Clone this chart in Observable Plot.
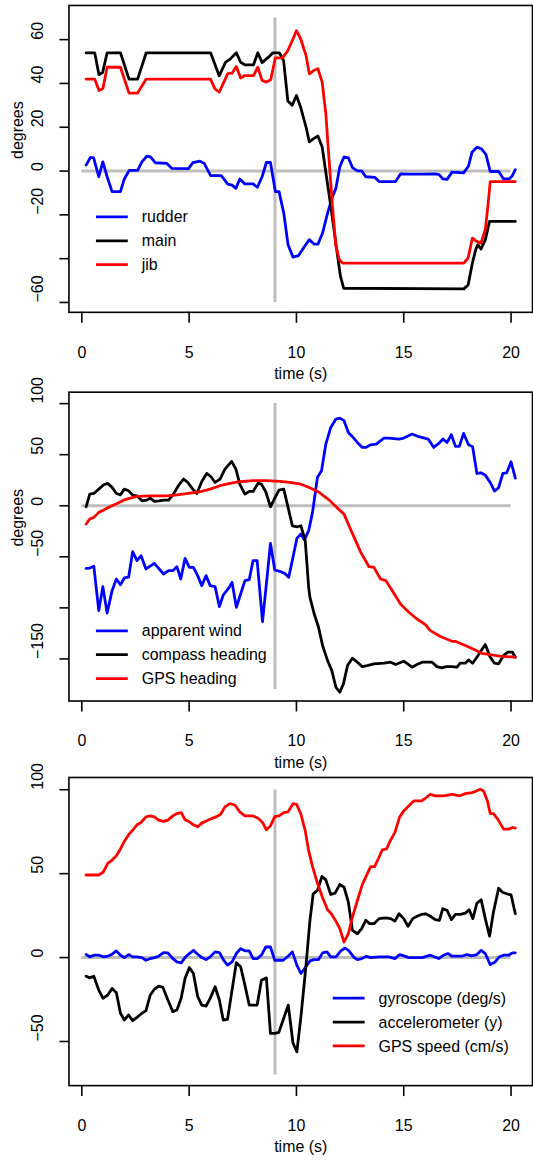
<!DOCTYPE html>
<html><head><meta charset="utf-8">
<script src="https://cdn.jsdelivr.net/npm/d3@7"></script>
<script src="https://cdn.jsdelivr.net/npm/@observablehq/plot@0.6"></script>
<style>
html,body{margin:0;padding:0;background:#fff;}
body{width:533px;height:1163px;overflow:hidden;}
#chart svg{display:block;}
</style></head><body><div id="chart"></div>
<script>
// ---------- shared ----------
const xTicks = [0, 5, 10, 15, 20];
const xTitle = "time (s)";
const markerTime = 9;

// ---------- panel 1: control surfaces (time s, degrees) ----------
const rudder = [[0.2,2.7],[0.4,6.2],[0.55,6.0],[0.79,-2.6],[0.98,4.2],[1.18,-2.6],[1.41,-9.4],[1.8,-9.4],[1.98,-3.6],[2.21,0.3],[2.6,0.3],[2.8,4.2],[3.03,6.8],[3.2,6.5],[3.42,3.8],[3.96,3.5],[4.2,1.2],[4.97,1.1],[5.17,3.8],[5.51,4.5],[5.7,3.5],[6.0,-2.1],[6.5,-2.1],[6.8,-6.0],[7.0,-6.4],[7.18,-7.9],[7.36,-3.6],[7.6,-5.9],[7.98,-5.9],[8.18,-7.4],[8.4,-2.6],[8.6,3.9],[8.79,3.9],[9.02,-9.4],[9.19,-9.4],[9.41,-19.2],[9.61,-33.6],[9.84,-39.3],[10.1,-38.6],[10.37,-34.6],[10.6,-31.3],[10.83,-33.4],[11.0,-33.4],[11.22,-28.3],[11.45,-19.2],[11.68,-11.7],[11.84,-7.9],[12.02,1.9],[12.22,6.5],[12.42,6.0],[12.61,1.6],[12.84,0.1],[13.04,0.1],[13.23,-2.6],[13.66,-2.9],[13.85,-4.8],[14.62,-4.8],[14.85,-1.3],[15.24,-1.4],[15.86,-1.4],[16.47,-1.3],[16.65,-1.6],[16.82,-3.6],[17.02,-3.8],[17.25,-0.5],[17.79,-0.8],[18.02,2.3],[18.18,8.6],[18.41,10.9],[18.61,10.2],[18.83,7.6],[19.03,-0.2],[19.42,-0.1],[19.65,-3.6],[19.91,-3.6],[20.06,-2.1],[20.2,0.6]];
const main = [[0.2,54],[0.6,54],[0.8,44],[0.97,45],[1.18,54],[1.8,54],[2.2,42],[2.6,42],[3.0,54],[6.0,54],[6.4,43.5],[6.7,49.7],[6.9,51],[7.2,54],[7.4,49.7],[7.6,48.5],[8.0,48.5],[8.2,54],[8.4,49.5],[8.7,52],[8.9,54],[9.2,54],[9.4,50.5],[9.6,32],[9.8,30],[10.0,34.5],[10.2,29],[10.45,20],[10.6,13.3],[10.8,14.8],[11.0,16],[11.2,11],[11.4,-2.6],[11.6,-16],[11.85,-34],[12.05,-48],[12.2,-53.5],[17.8,-53.8],[18.0,-52],[18.2,-42],[18.35,-36],[18.45,-33.6],[18.6,-35.6],[18.8,-31.4],[19.0,-23],[20.2,-23]];
const jib = [[0.2,42],[0.6,42],[0.8,36.8],[0.98,37.6],[1.18,47.4],[1.8,47.4],[2.2,35.6],[2.6,35.6],[3.0,42],[6.0,42],[6.2,37.6],[6.4,36],[6.8,44.5],[7.0,44.7],[7.2,47.7],[7.4,42.5],[7.6,43.6],[8.0,43.6],[8.2,47.4],[8.4,41.4],[8.6,40.6],[8.8,41.7],[9.02,51.7],[9.35,51.7],[9.6,55],[9.85,60.5],[10.0,64.1],[10.2,60.3],[10.45,52.7],[10.6,44.4],[10.8,45.9],[11.0,46.7],[11.2,40.6],[11.37,26.2],[11.5,8],[11.68,-16.2],[11.84,-34.4],[12.0,-40.5],[12.15,-42],[17.8,-42],[18.0,-39.7],[18.2,-30.6],[18.4,-32.1],[18.6,-32.9],[18.8,-26.8],[18.92,-16.2],[19.03,-4.8],[20.2,-4.8]];

// ---------- panel 2: headings (time s, degrees) ----------
const apparentWind = [[0.2,-61.3],[0.37,-61],[0.56,-59.3],[0.79,-102.7],[0.98,-79.2],[1.18,-105],[1.41,-83.1],[1.61,-71.7],[1.8,-77.3],[1.98,-70.7],[2.18,-70],[2.37,-45],[2.57,-53.7],[2.76,-48.9],[2.99,-61.9],[3.38,-56.4],[3.81,-66.8],[4.04,-63.6],[4.24,-63.6],[4.43,-59.6],[4.61,-71.7],[4.81,-51.5],[5.01,-60.3],[5.2,-60.3],[5.4,-68.4],[5.59,-78.2],[5.79,-68.4],[5.98,-78.2],[6.21,-79.2],[6.41,-98.8],[6.59,-87.4],[6.87,-79.9],[7.0,-75],[7.2,-99.4],[7.4,-86.4],[7.6,-73.3],[7.8,-72.4],[7.98,-53.7],[8.17,-53.7],[8.42,-113.5],[8.6,-76.6],[8.79,-36.8],[8.99,-62.9],[9.22,-64.2],[9.45,-66.2],[9.64,-70.1],[9.84,-50.5],[10.02,-32],[10.21,-27.6],[10.37,-33.4],[10.57,-24.4],[10.75,-6.5],[10.98,27.8],[11.17,34.3],[11.37,60.4],[11.6,76.7],[11.84,84.9],[12.02,85.8],[12.22,83.3],[12.42,71.8],[12.61,67.6],[12.84,62],[13.07,57.1],[13.23,57.1],[13.46,59.7],[13.72,60.4],[14.08,66.3],[14.3,66.3],[14.77,65.3],[15.0,66.3],[15.39,70.2],[15.7,67.6],[16.14,65.3],[16.4,57.1],[16.63,61],[16.83,65.3],[17.02,62],[17.22,69.5],[17.41,58.1],[17.59,58.1],[17.79,70.8],[18.02,59.7],[18.21,57.8],[18.41,31.6],[18.6,32.3],[18.8,30],[19.03,22.8],[19.23,14.4],[19.42,17.6],[19.62,31.6],[19.8,32.3],[20.0,43.1],[20.2,27]];
const compassHeading = [[0.2,-1],[0.37,11.4],[0.56,12],[0.79,16.3],[1.02,20.6],[1.21,21.9],[1.41,18],[1.61,12],[1.8,10.7],[1.98,16.3],[2.18,14.7],[2.37,10.4],[2.57,9.7],[2.8,4.8],[3.03,5.5],[3.19,7.4],[3.38,4.2],[3.6,4.8],[3.81,5.5],[4.04,5.5],[4.27,11.4],[4.5,19.6],[4.74,26.1],[4.94,22.8],[5.17,16.3],[5.36,12],[5.59,23.8],[5.82,31.6],[6.02,28.4],[6.21,22.8],[6.44,26.1],[6.67,35.9],[6.98,43.4],[7.18,35.9],[7.36,21.2],[7.6,11.4],[7.8,14],[7.98,14],[8.21,21.9],[8.37,21.2],[8.57,13.7],[8.79,-1],[8.99,7.4],[9.19,15.3],[9.41,16.3],[9.61,-1.6],[9.81,-19.6],[10.05,-20.6],[10.21,-19.6],[10.41,-34.2],[10.57,-79.9],[10.63,-89.7],[10.83,-106],[11.03,-119],[11.22,-137],[11.45,-151.6],[11.65,-161.4],[11.84,-177.7],[12.02,-182.6],[12.19,-174.4],[12.38,-156.5],[12.61,-149.3],[12.84,-153.2],[13.07,-157.5],[13.3,-156.5],[13.61,-154.8],[14.08,-154.2],[14.39,-153.2],[14.62,-155.5],[15.0,-152.2],[15.39,-158.1],[15.62,-155.5],[15.86,-153.2],[16.32,-153.2],[16.55,-157.5],[16.78,-158.8],[16.97,-157.5],[17.25,-157.5],[17.48,-158.1],[17.63,-154.2],[17.87,-154.2],[18.02,-150.9],[18.21,-154.2],[18.41,-148.3],[18.61,-141.8],[18.8,-135.9],[19.03,-148.3],[19.23,-154.2],[19.42,-154.8],[19.65,-146.7],[19.85,-143.4],[20.07,-143.4],[20.2,-148.3]];
const gpsHeading = [[0.2,-17.9],[0.37,-13],[0.56,-11.4],[0.79,-6.5],[1.02,-4.2],[1.33,-0.7],[1.64,2.3],[1.95,5.5],[2.26,7.4],[2.57,9.1],[3.19,9.7],[3.96,9.7],[4.43,10.7],[5.04,12.4],[5.51,13.7],[5.98,16.3],[6.44,19.6],[6.9,21.9],[7.36,23.5],[7.98,24.5],[8.6,24.5],[9.22,23.8],[9.69,22.8],[10.15,21.5],[10.6,17.9],[11.06,13.1],[11.53,5.5],[11.91,-2.3],[12.22,-8.2],[12.45,-19.6],[12.69,-31],[13.0,-45.6],[13.38,-59.7],[13.61,-60.3],[13.92,-71.7],[14.16,-73.3],[14.46,-83.1],[14.85,-96.2],[15.24,-104.3],[15.62,-110.9],[16.01,-116.4],[16.24,-122.3],[16.71,-128.1],[17.25,-132.7],[17.4,-132.7],[17.87,-136.9],[18.33,-141.2],[18.64,-144.5],[19.1,-146.1],[19.56,-147.4],[20.2,-148.3]];

// ---------- panel 3: motion sensors ----------
const gyroscope = [[0.2,1.8],[0.37,0.4],[0.56,1.4],[0.79,1.4],[1.02,0.4],[1.21,0.8],[1.41,2],[1.61,4],[1.8,1.4],[1.98,0],[2.18,1.8],[2.37,0.4],[2.57,0.4],[2.8,0],[2.99,-1.6],[3.19,-0.6],[3.38,0],[3.58,0.8],[3.81,3],[4.01,2.8],[4.24,-0.6],[4.43,-2.6],[4.63,-3.2],[4.81,0],[5.01,2.4],[5.2,4.3],[5.4,2],[5.59,0],[5.79,-1.2],[5.98,0.4],[6.21,3.4],[6.41,3],[6.59,-1.2],[6.79,-4.5],[7.0,-2.6],[7.2,2.4],[7.4,5.3],[7.6,4],[7.8,4],[7.98,-0.6],[8.17,-0.6],[8.37,1.4],[8.57,6.3],[8.79,6.3],[8.99,-1.6],[9.38,-1.6],[9.61,0.8],[9.81,3.4],[10.02,-4.5],[10.21,-9.5],[10.44,-5.5],[10.63,-2],[10.83,-1.2],[11.03,-1.2],[11.22,2.8],[11.42,3.4],[11.6,0.4],[11.84,0.4],[12.07,4],[12.27,5.7],[12.45,4],[12.69,0],[12.84,-1.2],[13.04,-0.6],[13.26,0.8],[13.46,0],[13.85,0.4],[14.31,0.4],[14.59,-0.6],[14.81,1.8],[15.0,1],[15.24,0],[15.86,0],[16.24,1.4],[16.63,-0.6],[16.86,1.4],[17.06,2.4],[17.25,0.8],[17.71,0.8],[17.94,1.8],[18.18,1],[18.41,1.8],[18.61,4.3],[18.8,2.4],[19.03,-4.2],[19.26,-2.6],[19.45,0.4],[19.65,1.4],[19.88,1.4],[20.07,2.8],[20.2,2.8]];
const accelerometer = [[0.2,-11.1],[0.37,-12.1],[0.56,-11.1],[0.79,-19.4],[0.99,-24.3],[1.21,-22.3],[1.41,-18.4],[1.61,-21],[1.8,-33.2],[1.98,-37.2],[2.18,-34.2],[2.37,-37.6],[2.57,-35.6],[2.76,-33.6],[2.99,-31.6],[3.19,-22.3],[3.38,-18.9],[3.58,-17],[3.78,-17.8],[4.01,-25.3],[4.24,-32.2],[4.43,-31.2],[4.63,-24.3],[4.81,-12.5],[5.01,-5.9],[5.2,-9.5],[5.4,-23.3],[5.59,-28.3],[5.79,-28.9],[5.98,-24.3],[6.21,-17.4],[6.41,-25.3],[6.59,-37.2],[6.79,-36.8],[7.0,-19.4],[7.2,-3.1],[7.4,-5.5],[7.6,-16.4],[7.8,-28.3],[8.17,-28.3],[8.37,-13.5],[8.6,-12.1],[8.79,-45.2],[8.99,-45.2],[9.18,-44.6],[9.38,-37.2],[9.62,-28.3],[9.84,-51],[10.02,-56.1],[10.21,-35.2],[10.44,-5.5],[10.63,22.2],[10.78,38],[10.98,40],[11.19,48.3],[11.37,46.3],[11.6,37.6],[11.8,38.4],[12.02,43.5],[12.22,41.9],[12.42,33],[12.61,16.2],[12.84,14.2],[13.04,17.2],[13.23,22.2],[13.41,20.2],[13.61,20.2],[13.85,23.2],[14.16,23.7],[14.39,23.2],[14.59,21.7],[14.78,26.1],[15.0,23.2],[15.2,18.6],[15.42,23.2],[15.62,24.6],[15.82,25.7],[16.01,26.1],[16.24,24.6],[16.47,22.6],[16.66,22.2],[16.82,29.1],[17.02,28.1],[17.22,22.6],[17.41,25.7],[17.64,25.7],[17.87,26.5],[18.05,28.5],[18.22,23.2],[18.41,32.4],[18.61,34.4],[18.8,23.2],[19.0,12.7],[19.18,27.1],[19.42,41.3],[19.6,38.9],[19.8,38],[20.0,37.4],[20.2,26.1]];
const gpsSpeed = [[0.2,49.2],[0.79,49.2],[0.99,50.8],[1.21,56.1],[1.41,58.1],[1.61,60.7],[1.8,64.7],[1.98,69.2],[2.18,73.2],[2.37,75.9],[2.57,79.1],[2.76,80.5],[2.99,83.8],[3.19,84.4],[3.38,83.8],[3.58,81.9],[3.81,81.1],[4.01,81.9],[4.24,84.4],[4.43,85.8],[4.63,86.4],[4.81,82.1],[5.01,80.9],[5.2,79.1],[5.4,77.9],[5.59,80.1],[5.82,81.5],[6.05,82.8],[6.28,84],[6.47,85.4],[6.67,89.8],[6.9,91.7],[7.13,90.9],[7.36,86.8],[7.6,84.4],[7.98,84.4],[8.21,83],[8.42,80.5],[8.6,76.1],[8.79,78.5],[8.99,84],[9.19,84.4],[9.41,86.4],[9.61,86.8],[9.84,91.7],[10.01,91.3],[10.21,85.4],[10.41,75.6],[10.57,63.7],[10.75,54.2],[10.98,44.3],[11.22,35.6],[11.45,28.5],[11.65,25.7],[11.84,21.7],[12.02,17.2],[12.22,9.3],[12.42,14.2],[12.61,24.1],[12.84,34],[13.07,43.5],[13.26,48.8],[13.46,54.2],[13.64,54.2],[13.81,58.7],[14.0,64.1],[14.2,64.7],[14.39,70],[14.59,74.6],[14.81,83.8],[15.0,87.4],[15.24,90.4],[15.47,93.3],[15.82,93.3],[16.01,94.9],[16.24,97.3],[16.47,96.3],[16.86,96.3],[17.25,97.3],[17.59,96.3],[17.87,97.7],[18.18,98.3],[18.33,98.9],[18.56,100.3],[18.72,99.3],[18.9,93.3],[19.03,85.8],[19.18,85.8],[19.38,82.5],[19.65,76.5],[19.88,76.5],[20.07,77.5],[20.2,77.1]];

// ---------- tick labels / titles ----------
const yTicks1 = [-60, -40, -20, 0, 20, 40, 60];
const yLabels1 = ["\u221260", "", "\u221220", "0", "20", "40", "60"];
const yTicks2 = [-150, -100, -50, 0, 50, 100];
const yLabels2 = ["\u2212150", "", "\u221250", "0", "50", "100"];
const yTicks3 = [-50, 0, 50, 100];
const yLabels3 = ["\u221250", "0", "50", "100"];
const names1 = ["rudder", "main", "jib"];
const names2 = ["apparent wind", "compass heading", "GPS heading"];
const names3 = ["gyroscope (deg/s)", "accelerometer (y)", "GPS speed (cm/s)"];
const colors = ["#0000ff", "#000000", "#ff0000"];

const FONT = "'Liberation Sans', Arial, Helvetica, sans-serif";
const GREY = "#bebebe";

function panel(cfg) {
  const marks = [
    Plot.ruleY([0], {x1: xTicks[0], x2: xTicks[xTicks.length - 1], stroke: GREY, strokeWidth: 3}),
    Plot.ruleX([markerTime], {y1: cfg.vRange[0], y2: cfg.vRange[1], stroke: GREY, strokeWidth: 3}),
    ...cfg.series.map((s, i) => Plot.line(s, {
      x: d => d[0], y: d => d[1], stroke: colors[i], strokeWidth: 2.8,
      strokeLinejoin: "round", strokeLinecap: "round"
    })),
    Plot.frame({stroke: "#000", strokeWidth: 1.6}),
    Plot.axisX({ticks: xTicks, tickSize: 11, tickPadding: 23, strokeWidth: 1.6, fill: "#000"}),
    Plot.axisY({ticks: cfg.yTicks, tickSize: 9, tickFormat: () => "", strokeWidth: 1.6}),
    Plot.text(cfg.yTicks, {y: d => d, text: (d, i) => cfg.yLabels[i], frameAnchor: "left", dx: -31, rotate: -90, fill: "#000"}),
    Plot.text([xTitle], {frameAnchor: "bottom", lineAnchor: "bottom", dy: 67, fill: "#000"})
  ];
  if (cfg.yTitle) marks.push(Plot.text([cfg.yTitle], {frameAnchor: "left", dx: -51.5, rotate: -90, fill: "#000"}));
  const svg = Plot.plot({
    width: 535, height: cfg.height,
    marginLeft: 68.7, marginRight: 1, marginTop: cfg.marginTop, marginBottom: cfg.marginBottom,
    x: {domain: [-0.6, 21.0], label: null},
    y: {domain: cfg.yDomain, label: null},
    style: {fontFamily: FONT, fontSize: "16px", color: "#000", background: "#fff", overflow: "visible"},
    marks
  });
  const g = d3.select(svg).append("g").attr("font-family", FONT).attr("font-size", 16)
    .attr("text-anchor", "start");
  cfg.names.forEach((name, i) => {
    const y = cfg.legend.top + i * 24;
    g.append("line").attr("x1", cfg.legend.x).attr("x2", cfg.legend.x + 32)
      .attr("y1", y).attr("y2", y).attr("stroke", colors[i]).attr("stroke-width", 2.8);
    g.append("text").attr("x", cfg.legend.x + 46).attr("y", y).attr("dy", "0.35em")
      .attr("text-anchor", "start").attr("fill", "#000").text(name);
  });
  return svg;
}

const chart = document.getElementById("chart");
chart.append(panel({
  series: [rudder, main, jib], names: names1,
  height: 387, marginTop: 5, marginBottom: 74,
  yDomain: [-64.5, 75.6], yTicks: yTicks1, yLabels: yLabels1, yTitle: "degrees",
  vRange: [-60, 70], legend: {x: 96.3, top: 217.7}
}));
chart.append(panel({
  series: [apparentWind, compassHeading, gpsHeading], names: names2,
  height: 388, marginTop: 5.7, marginBottom: 72.3,
  yDomain: [-191.2, 111.2], yTicks: yTicks2, yLabels: yLabels2, yTitle: "degrees",
  vRange: [-180, 100], legend: {x: 96.3, top: 245.7}
}));
chart.append(panel({
  series: [gyroscope, accelerometer, gpsSpeed], names: names3,
  height: 388, marginTop: 5, marginBottom: 73.7,
  yDomain: [-76.3, 107.3], yTicks: yTicks3, yLabels: yLabels3, yTitle: null,
  vRange: [-70, 100], legend: {x: 334, top: 227}
}));
</script>
</body></html>
